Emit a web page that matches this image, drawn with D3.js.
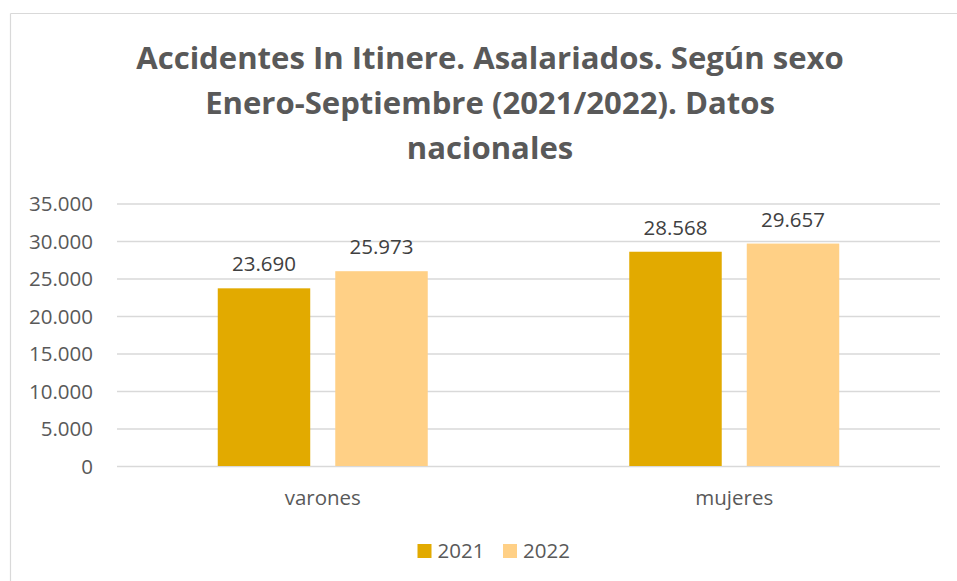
<!DOCTYPE html>
<html>
<head>
<meta charset="utf-8">
<script src="https://cdn.jsdelivr.net/npm/d3@7"></script>
<style>
  html, body { margin: 0; padding: 0; background: #fff; overflow: hidden; }
  svg { display: block; }
  svg text { font-family: "Open Sans", sans-serif; }
</style>
</head>
<body>
<div id="chart"></div>
<script>
// chart data
var titleLines = ["Accidentes In Itinere. Asalariados. Según sexo",
                  "Enero-Septiembre (2021/2022). Datos",
                  "nacionales"];
var categories = ["varones", "mujeres"];
var seriesNames = ["2021", "2022"];
var values2021 = [23690, 28568];
var values2022 = [25973, 29657];
var yTicks = [0, 5000, 10000, 15000, 20000, 25000, 30000, 35000];

var totalWidth = 957;
var totalHeight = 581;
var margins = {top: 203.5, right: 17, bottom: 115, left: 117};
var innerWidth = totalWidth - margins.left - margins.right;
var innerHeight = totalHeight - margins.top - margins.bottom;

var colors = d3.scaleOrdinal().domain(seriesNames).range(["#E2AA00", "#FFD086"]);

var rows = categories.map(function(c, i) {
    return {cat: c, vals: [
        {name: "2021", value: values2021[i]},
        {name: "2022", value: values2022[i]}
    ]};
});

var svg = d3.select("#chart").append("svg")
    .attr("width", totalWidth)
    .attr("height", totalHeight);

// outer frame: only top and left edges are inside the picture
svg.append("line").attr("x1", 10.5).attr("y1", 13.5).attr("x2", 10.5).attr("y2", totalHeight)
    .attr("stroke", "#d9d9d9").attr("stroke-width", 1.2);
svg.append("line").attr("x1", 10.5).attr("y1", 13.5).attr("x2", totalWidth).attr("y2", 13.5)
    .attr("stroke", "#d9d9d9").attr("stroke-width", 1.2);

// title
var titleText = svg.append("g").selectAll("text")
    .data(titleLines)
    .enter().append("text")
    .attr("x", 490)
    .attr("y", function(d, i) { return 69 + i * 45; })
    .attr("text-anchor", "middle")
    .style("font-weight", "bold")
    .style("font-size", "32px")
    .style("fill", "#595959")
    .text(function(d) { return d; });
var w0 = titleText.node().getComputedTextLength();
var fs = Math.min(32, 32 * 708 / w0);
titleText.style("font-size", fs + "px");

var g = svg.append("g")
    .attr("transform", "translate(" + margins.left + "," + margins.top + ")");

var y = d3.scaleLinear().domain([0, 35000]).range([innerHeight, 0]);
var x0 = d3.scaleBand().domain(categories).range([0, innerWidth]).padding(0);
var groupW = 210;
var x1 = d3.scaleBand().domain(seriesNames)
    .range([(x0.bandwidth() - groupW) / 2, (x0.bandwidth() + groupW) / 2])
    .paddingInner(0.213).paddingOuter(0);

var fmt = function(v) { return d3.format(",")(v).replace(/,/g, "."); };

// gridlines + tick labels
var yAxis = d3.axisLeft(y).tickValues(yTicks).tickSize(-innerWidth).tickPadding(24)
    .tickFormat(fmt);
var yAA = g.append("g").attr("class", "y_axis").call(yAxis)
    .attr("font-size", null).attr("font-family", null);
yAA.select(".domain").remove();
yAA.selectAll(".tick line").attr("stroke", "#d9d9d9").attr("stroke-width", 1.3);
yAA.selectAll(".tick text")
    .style("font-size", "20.5px")
    .style("fill", "#595959")
    .attr("dy", null)
    .attr("y", 7.4);

// bars
var groups = g.selectAll(".grp")
    .data(rows)
    .enter().append("g")
    .attr("class", "grp")
    .attr("transform", function(d) { return "translate(" + x0(d.cat) + ",0)"; });

groups.selectAll("rect")
    .data(function(d) { return d.vals; })
    .enter().append("rect")
    .attr("x", function(d) { return x1(d.name); })
    .attr("y", function(d) { return y(d.value); })
    .attr("width", x1.bandwidth())
    .attr("height", function(d) { return innerHeight - y(d.value); })
    .style("fill", function(d) { return colors(d.name); });

groups.selectAll(".lbl")
    .data(function(d) { return d.vals; })
    .enter().append("text")
    .attr("class", "lbl")
    .attr("x", function(d) { return x1(d.name) + x1.bandwidth() / 2; })
    .attr("y", function(d) { return y(d.value) - 17; })
    .attr("text-anchor", "middle")
    .style("font-size", "20.5px")
    .style("fill", "#404040")
    .text(function(d) { return fmt(d.value); });

// category labels
var xAxis = d3.axisBottom(x0).tickSize(0).tickPadding(24);
var xAA = g.append("g")
    .attr("transform", "translate(0," + innerHeight + ")")
    .call(xAxis)
    .attr("font-size", null).attr("font-family", null);
xAA.select(".domain").remove();
xAA.selectAll(".tick text")
    .style("font-size", "20.5px")
    .style("fill", "#595959")
    .attr("dy", null)
    .attr("y", 38.5);

// legend
var legendX = [417.5, 503];
var legend = svg.selectAll(".legend")
    .data(seriesNames)
    .enter().append("g")
    .attr("class", "legend")
    .attr("transform", function(d, i) { return "translate(" + legendX[i] + ",544)"; });

legend.append("rect")
    .attr("width", 14)
    .attr("height", 14)
    .style("fill", colors);

legend.append("text")
    .attr("x", 20)
    .attr("y", 14.4)
    .style("font-size", "20.5px")
    .style("fill", "#595959")
    .text(function(d) { return d; });
</script>
</body>
</html>
